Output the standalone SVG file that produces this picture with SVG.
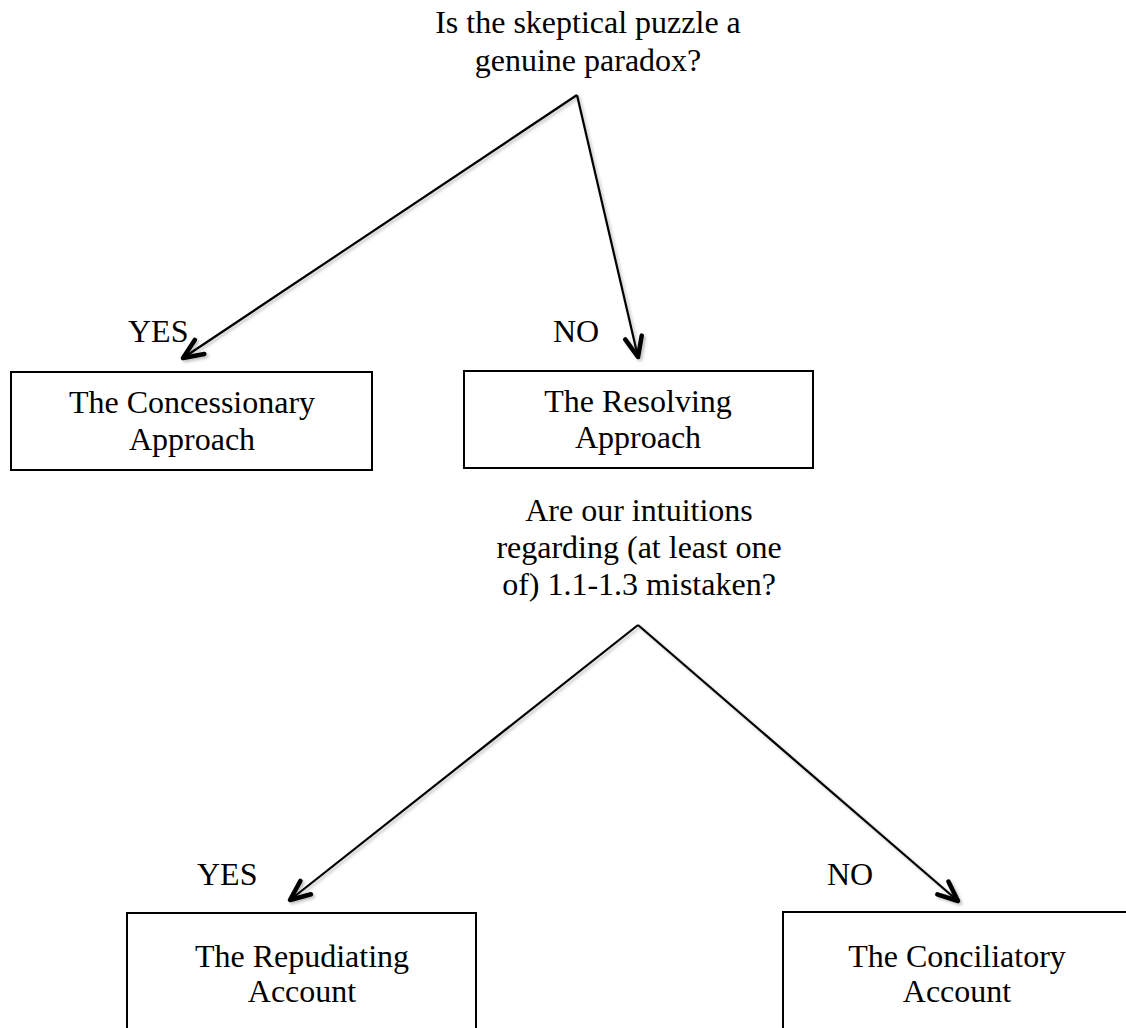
<svg xmlns="http://www.w3.org/2000/svg" width="1126" height="1028" viewBox="0 0 1126 1028">
<defs>
<style>
text{font-family:"Liberation Serif","Times New Roman",serif;font-size:32px;fill:#000;text-anchor:middle}
.box{fill:#fff;stroke:#000;stroke-width:2}
.conn{fill:none;stroke:#000;stroke-width:2.2;stroke-linejoin:miter}
.lbl{text-anchor:start}
</style>
<marker id="arr" markerUnits="userSpaceOnUse" markerWidth="40" markerHeight="40" refX="0" refY="0" viewBox="-30 -20 40 40" orient="auto" overflow="visible">
<path d="M -20,-8.5 L 0,0 L -20,8.5" fill="none" stroke="#000" stroke-width="4.5" stroke-linecap="round" stroke-linejoin="round"/>
</marker>
<filter id="sh" x="-10%" y="-10%" width="130%" height="130%">
<feDropShadow dx="2" dy="2" stdDeviation="1.5" flood-color="#000" flood-opacity="0.25"/>
</filter>
</defs>
<rect width="1126" height="1028" fill="#fff"/>
<g id="q1">
<text x="588" y="33">Is the skeptical puzzle a</text>
<text x="588" y="71">genuine paradox?</text>
</g>
<g id="n-concessionary">
<rect class="box" x="11" y="372" width="361" height="98"/>
<text x="192" y="413">The Concessionary</text>
<text x="192" y="450">Approach</text>
</g>
<g id="n-resolving">
<rect class="box" x="464" y="371" width="349" height="97"/>
<text x="638" y="412">The Resolving</text>
<text x="638" y="448">Approach</text>
</g>
<g id="q2">
<text x="639" y="521">Are our intuitions</text>
<text x="639" y="558">regarding (at least one</text>
<text x="639" y="595">of) 1.1-1.3 mistaken?</text>
</g>
<g id="n-repudiating">
<rect class="box" x="127" y="913" width="349" height="140"/>
<text x="302" y="967">The Repudiating</text>
<text x="302" y="1002">Account</text>
</g>
<g id="n-conciliatory">
<rect class="box" x="783" y="912" width="360" height="140"/>
<text x="957" y="967">The Conciliatory</text>
<text x="957" y="1002">Account</text>
</g>
<g id="labels">
<text class="lbl" x="128" y="342">YES</text>
<text class="lbl" x="553" y="342">NO</text>
<text class="lbl" x="197" y="885">YES</text>
<text class="lbl" x="827" y="885">NO</text>
</g>
<g id="connectors" filter="url(#sh)">
<path class="conn" d="M 577,95 L 183,358" marker-end="url(#arr)"/>
<path class="conn" d="M 577,95 L 638,357" marker-end="url(#arr)"/>
<path class="conn" d="M 638,625 L 290,900" marker-end="url(#arr)"/>
<path class="conn" d="M 638,625 L 958,901" marker-end="url(#arr)"/>
</g>
</svg>
